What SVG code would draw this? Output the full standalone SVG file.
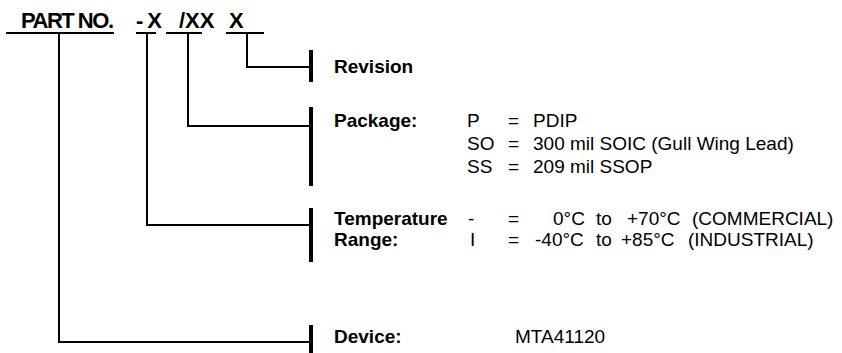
<svg xmlns="http://www.w3.org/2000/svg" width="842" height="353" viewBox="0 0 842 353">
<style>
.t{font-family:"Liberation Sans",Arial,sans-serif;fill:#000}
.title{font-size:22px;font-weight:bold}
.lb{font-size:19px;font-weight:bold}
.v{font-size:19px}
.ln{stroke:#000;stroke-width:2;fill:none}
.bar{stroke:#000;stroke-width:4;fill:none}
</style>
<rect width="842" height="353" fill="#fff"/>
<g id="title">
<text class="t title" x="21" y="28" textLength="93" lengthAdjust="spacing">PART NO.</text>
<text class="t title" x="136" y="28">-<tspan dx="4">X</tspan></text>
<text class="t title" x="179" y="28">/XX</text>
<text class="t title" x="229" y="28">X</text>
<path class="ln" d="M6 33H114M136 33H156M166 33H202M226 33H264"/>
</g>
<g id="connectors">
<path class="ln" d="M247 33V67H311"/>
<path class="ln" d="M188 33V126H311"/>
<path class="ln" d="M147 33V225H311"/>
<path class="ln" d="M59 33V342H311"/>
</g>
<g id="revision">
<path class="bar" d="M311 50V82"/>
<text class="t lb" x="334" y="73">Revision</text>
</g>
<g id="package">
<path class="bar" d="M311 107V186"/>
<text class="t lb" x="334" y="127">Package:</text>
<text class="t v" x="467" y="127">P</text>
<text class="t v" x="508" y="127">=</text>
<text class="t v" x="533" y="127">PDIP</text>
<text class="t v" x="467" y="150">SO</text>
<text class="t v" x="508" y="150">=</text>
<text class="t v" x="533" y="150">300 mil SOIC (Gull Wing Lead)</text>
<text class="t v" x="467" y="173">SS</text>
<text class="t v" x="508" y="173">=</text>
<text class="t v" x="533" y="173">209 mil SSOP</text>
</g>
<g id="temperature">
<path class="bar" d="M311 208V262"/>
<text class="t lb" x="334" y="225">Temperature</text>
<text class="t lb" x="334" y="246">Range:</text>
<text class="t v" x="468" y="225">-</text>
<text class="t v" x="508" y="225">=</text>
<text class="t v" y="225"><tspan x="553">0°C</tspan><tspan x="596">to</tspan><tspan x="627">+70°C</tspan><tspan x="692">(COMMERCIAL)</tspan></text>
<text class="t v" x="470" y="246">I</text>
<text class="t v" x="508" y="246">=</text>
<text class="t v" y="246"><tspan x="535">-40°C</tspan><tspan x="596">to</tspan><tspan x="621">+85°C</tspan><tspan x="688">(INDUSTRIAL)</tspan></text>
</g>
<g id="device">
<path class="bar" d="M311 325V353"/>
<text class="t lb" x="334" y="343">Device:</text>
<text class="t v" x="515" y="343">MTA41120</text>
</g>
</svg>
